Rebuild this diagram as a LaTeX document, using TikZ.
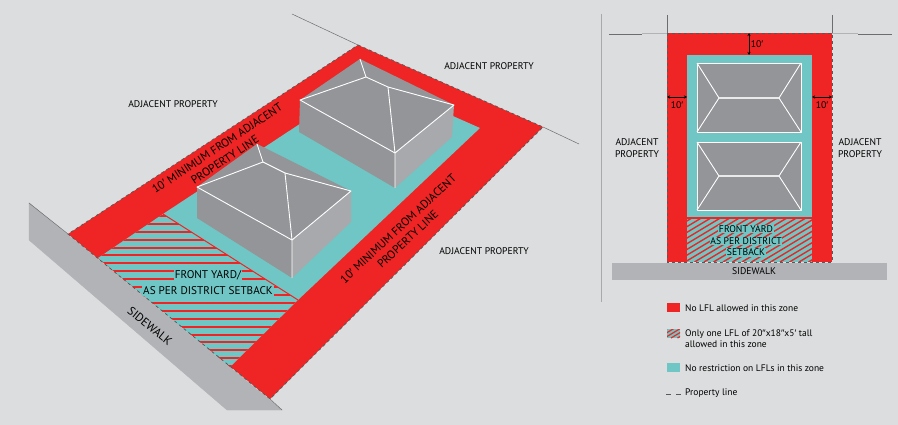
\documentclass[tikz,border=0pt]{standalone}
\usepackage{fontspec}
\setmainfont{PT Sans}
\newfontfamily\primefont{Liberation Sans}
\newcommand{\onep}{{\primefont ′}}
\newcommand{\twop}{{\primefont ″}}
\usetikzlibrary{arrows.meta}
\definecolor{bg}{HTML}{DCDDDE}
\definecolor{zred}{HTML}{EE2524}
\definecolor{zteal}{HTML}{70C6C4}
\definecolor{roofc}{HTML}{939598}
\definecolor{wallc}{HTML}{A7A9AC}
\definecolor{walk}{HTML}{B1B3B6}
\definecolor{pline}{HTML}{58595B}
\tikzset{
  lbl/.style={inner sep=0pt,align=center,font=\fontsize{9.7}{12}\selectfont,text=black},
  biglbl/.style={inner sep=1pt,align=center,font=\fontsize{11.2}{16}\selectfont,text=black},
  roofline/.style={draw=white,line width=0.9pt,line join=round},
  thinline/.style={draw=pline!85!bg,line width=0.5pt},
  dashline/.style={draw=pline,line width=0.8pt,dash pattern=on 3pt off 3pt},
  dimarrow/.style={draw=black,line width=0.5pt,{Stealth[length=3pt,width=3pt]}-{Stealth[length=3pt,width=3pt]}},
  legtext/.style={inner sep=0pt,anchor=base west,font=\fontsize{9.5}{12}\selectfont,text=black},
}
\begin{document}
\begin{tikzpicture}[x=1pt,y=-1pt]
\useasboundingbox (0,0) rectangle (898,425);
\fill[bg] (0,0) rectangle (898,425);
% ===== left view =====
\draw[walk,fill=walk] (29,203) -- (282,410) -- (227,410) -- (29,240) -- cycle;
\fill[zred] (358,45) -- (543,127) -- (270,399) -- (68,234) -- cycle;
\fill[zteal] (368.6,78.7) -- (480,128) -- (298,300) -- (163,214) -- cycle;
% hatch zone
\fill[zteal] (163,214) -- (298,300) -- (230,367) -- (98,258) -- cycle;
\begin{scope}
\clip (163,214) -- (298,300) -- (230,367) -- (98,258) -- cycle;
\foreach \yy in {215,222.9,...,370}{\fill[zred] (90,\yy) rectangle (310,\yy+2);}
\end{scope}
\draw[zred,line width=1pt] (163,214) -- (298,300);
\draw[dashline] (358,45) -- (543,127) -- (270,399) -- (68,234) -- cycle;
\draw[thinline] (292,14) -- (358,45);
\draw[thinline] (543,127) -- (579,144);
\draw[thinline] (29,203) -- (68,234);
\draw[thinline] (270,399) -- (282,410);
% back house
\fill[roofc] (360,59) -- (454,105) -- (395,153) -- (300,100) -- cycle;
\fill[roofc] (300,100) -- (395,153) -- (395,188) -- (299,132) -- cycle;
\fill[wallc] (395,153) -- (454,105) -- (452,137) -- (395,188) -- cycle;
\draw[roofline] (366,77) -- (300,100) -- (395,153) -- (454,105) -- (388,87) -- (366,77) -- (360,59);
\draw[roofline] (388,87) -- (395,153) -- (395,188);
% front house
\fill[roofc] (257,144) -- (351,191) -- (292,240) -- (197,187) -- cycle;
\fill[roofc] (197,187) -- (292,240) -- (292,278) -- (197,218) -- cycle;
\fill[wallc] (292,240) -- (351,191) -- (351,222) -- (292,278) -- cycle;
\draw[roofline] (263,162) -- (197,187) -- (292,240) -- (351,191) -- (285,173) -- (263,162) -- (257,144);
\draw[roofline] (285,173) -- (292,240) -- (292,278);
% labels
\node[lbl] (adjL) at (173,104.5) {ADJACENT PROPERTY};
\node[lbl] (adjT) at (489,66.5) {ADJACENT PROPERTY};
\node[lbl] (adjB) at (484,251.5) {ADJACENT PROPERTY};
\node[lbl,rotate=33.5,font=\fontsize{11.5}{14}\selectfont] (minA) at (221,154) {10\onep{} MINIMUM FROM ADJACENT\\PROPERTY LINE};
\node[lbl,rotate=43,font=\fontsize{11.5}{14}\selectfont] (minB) at (403,234) {10\onep{} MINIMUM FROM ADJACENT\\PROPERTY LINE};
\node[lbl,rotate=-39.3,font=\fontsize{11.8}{12}\selectfont] (walkL) at (150,326) {SIDEWALK};
\node[biglbl,fill=zteal] (fy1) at (208,275) {FRONT YARD/};
\node[biglbl,fill=zteal] (fy2) at (208,291) {AS PER DISTRICT SETBACK};
% ===== divider =====
\draw[draw=wallc,line width=1.5pt] (601.5,14) -- (601.5,302);
% ===== right view =====
\fill[zred] (667,33) rectangle (832,262);
\fill[zteal] (687,55) rectangle (812,262);
\begin{scope}
\clip (687,218) rectangle (812,262);
\foreach \xx in {590,599.5,...,830}{\draw[zred,line width=1.4pt] (\xx,262) -- (\xx+100,202);}
\end{scope}
\fill[zred] (687,217.5) rectangle (812,219);
\draw[dashline,line width=0.7pt] (667,33) rectangle (832,262);
\draw[thinline] (667,15) -- (667,33);
\draw[thinline] (832,15) -- (832,33);
\draw[thinline] (609,34) -- (642,34);
\draw[thinline] (858,34) -- (892,34);
\draw[draw=walk,line width=1pt] (642,33.5) -- (667,33.5);
\draw[draw=walk,line width=1pt] (832,33.5) -- (858,33.5);
\fill[walk] (612,263) rectangle (887,280);
% plan houses
\foreach \t/\b/\r in {63/132/98,142/210/176}{
  \fill[roofc] (697,\t) rectangle (801,\b);
  \draw[roofline] (697,\t) rectangle (801,\b);
  \draw[roofline] (697,\t) -- (719,\r) -- (697,\b);
  \draw[roofline] (801,\t) -- (779,\r) -- (801,\b);
  \draw[roofline,line width=1.1pt,draw=white!80!roofc] (719,\r) -- (779,\r);
}
% dims
\coordinate (dT1) at (749,33); \coordinate (dT2) at (749,55);
\coordinate (dL1) at (667,97); \coordinate (dL2) at (687,97);
\coordinate (dR1) at (812,97); \coordinate (dR2) at (832,97);
\draw[dimarrow] (dT1) -- (dT2);
\draw[dimarrow] (dL1) -- (dL2);
\draw[dimarrow] (dR1) -- (dR2);
\node[lbl] (d10T) at (757,44) {10\onep};
\node[lbl] (d10L) at (677,105) {10\onep};
\node[lbl] (d10R) at (822,105) {10\onep};
\node[lbl] (adjPL) at (637,148) {ADJACENT\\PROPERTY};
\node[lbl] (adjPR) at (860,148) {ADJACENT\\PROPERTY};
\node[lbl,fill=zteal,inner sep=0.5pt] (py1) at (746,229) {FRONT YARD};
\node[lbl,fill=zteal,inner sep=0.5pt] (py2) at (746,241) {AS PER DISTRICT};
\node[lbl,fill=zteal,inner sep=0.5pt] (py3) at (746,252.5) {SETBACK};
\node[lbl] (pw) at (754,271) {SIDEWALK};
% ===== legend =====
\fill[zred] (667,303) rectangle (680,312);
\fill[zteal] (667,329) rectangle (680,338);
\begin{scope}
\clip (667,329) rectangle (680,338);
\foreach \xx in {645,651.5,...,685}{\draw[zred,line width=1.2pt] (\xx,338) -- (\xx+20,326);}
\end{scope}
\fill[zteal] (667,363) rectangle (680,372);
\coordinate (lg1) at (666,394.5); \coordinate (lg2) at (681,394.5);
\draw[draw=pline,line width=0.8pt,dash pattern=on 5pt off 5pt] (lg1) -- (lg2);
\node[legtext] (t1) at (685,311) {No LFL allowed in this zone};
\node[legtext] (t2a) at (685,336) {Only one LFL of 20\twop{}x18\twop{}x5\onep{} tall};
\node[legtext] (t2b) at (685,347) {allowed in this zone};
\node[legtext] (t3) at (685,371) {No restriction on LFLs in this zone};
\node[legtext] (t4) at (685,395) {Property line};
\end{tikzpicture}
\end{document}
